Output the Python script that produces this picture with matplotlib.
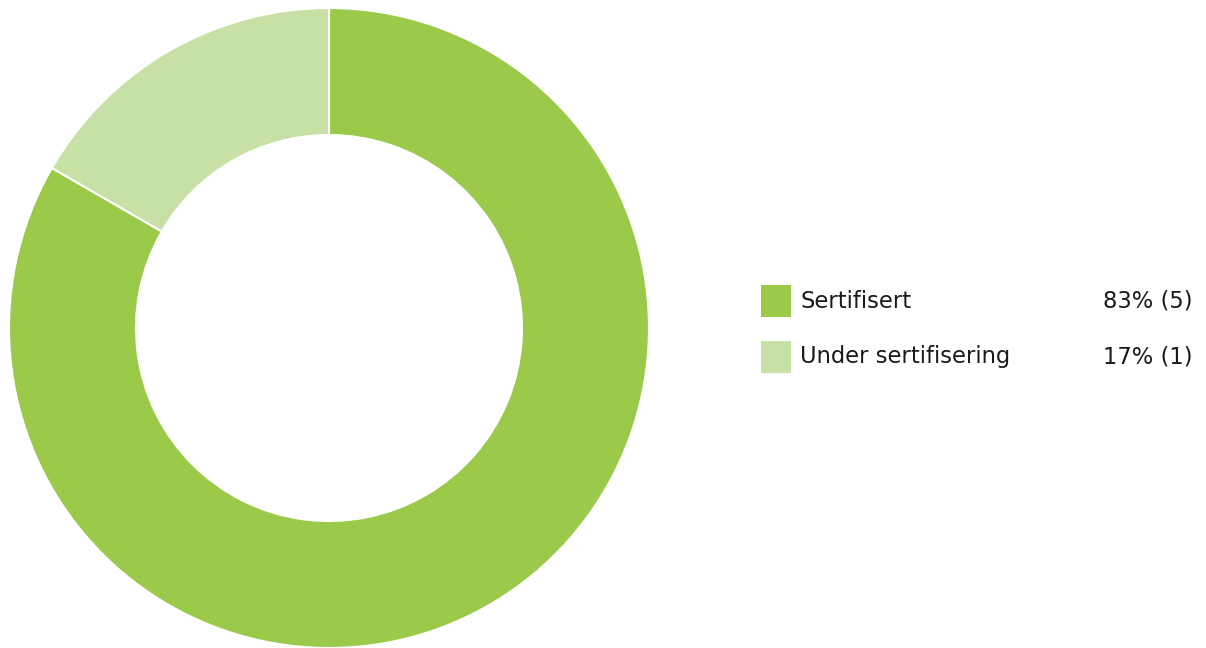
import matplotlib
matplotlib.use('Agg')
from matplotlib import pyplot as plt
from matplotlib.patches import Rectangle

# data
labels = ['Sertifisert', 'Under sertifisering']
counts = [5, 1]
pct_labels = ['83% (5)', '17% (1)']
colors = ['#9bc94a', '#c7e0a5']

W, H = 1206, 648
fig = plt.figure(figsize=(W / 100, H / 100), dpi=100)
ax = fig.add_axes([0, 0, 1, 1])

# donut
ax.pie(counts, colors=colors, startangle=90, counterclock=False,
       center=(329, H - 328), radius=320, frame=True,
       wedgeprops=dict(width=127, edgecolor='white', linewidth=1.5))
ax.set_xlim(0, W)
ax.set_ylim(0, H)
ax.set_aspect('equal')
ax.axis('off')

# legend
for i, (lab, pct, c) in enumerate(zip(labels, pct_labels, colors)):
    yc = H - (301 + i * 56)
    ax.add_patch(Rectangle((761, yc - 16), 30, 32, color=c, lw=0))
    ax.text(800, yc, lab, fontsize=16.3, va='center', ha='left', color='#1a1a1a')
    ax.text(1193, yc, pct, fontsize=16.3, va='center', ha='right', color='#1a1a1a')

fig.savefig('out.png', dpi=100)
